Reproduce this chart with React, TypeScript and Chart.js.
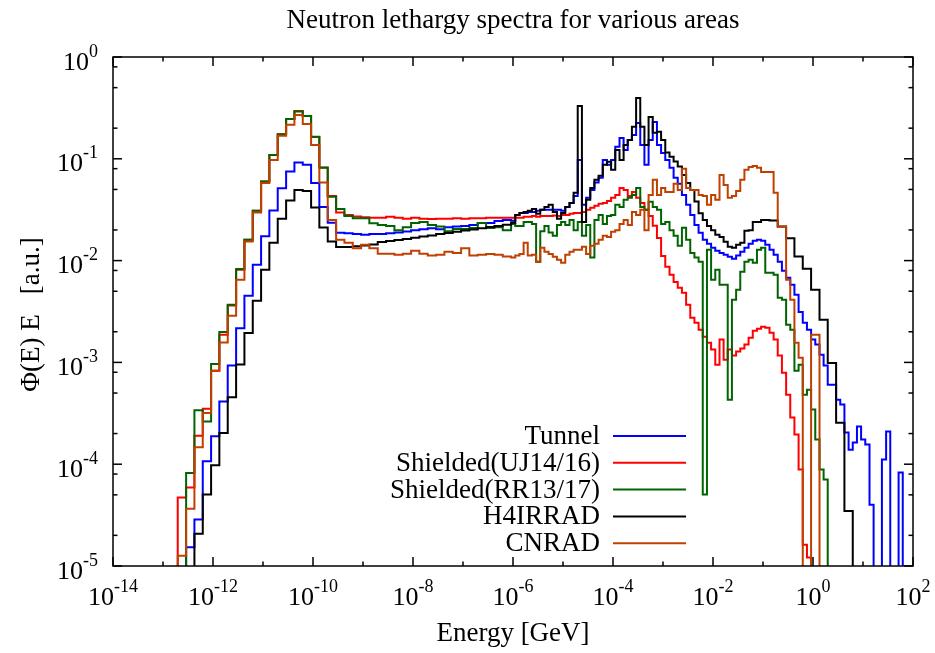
import React, { useEffect, useRef } from "react";
import { Chart, registerables } from "chart.js";

Chart.register(...registerables);

const FONT_FAMILY = '"Liberation Serif", "Times New Roman", serif';

const TITLE = "Neutron lethargy spectra for various areas";
const X_TITLE = "Energy [GeV]";
const Y_TITLE = "Φ(E) E   [a.u.]";

const X_MIN = 1e-14;
const X_MAX = 1e2;
const Y_MIN = 1e-5;
const Y_MAX = 1;

const X_TICK_EXPONENTS = [-14, -12, -10, -8, -6, -4, -2, 0, 2];
const X_MINOR_TICK_EXPONENTS = [-13, -11, -9, -7, -5, -3, -1, 1];
const Y_TICK_EXPONENTS = [0, -1, -2, -3, -4, -5];
const Y_MINOR_MULTIPLIERS = [2, 5, 8];

const SERIES_NAMES = ["Tunnel", "Shielded(UJ14/16)", "Shielded(RR13/17)", "H4IRRAD", "CNRAD"];
const SERIES_COLORS = ["#0000ff", "#ff0000", "#006400", "#000000", "#c04000"];

// Bin left edges (GeV); last entry is the upper edge of the last bin
const ENERGY = [
  1.34e-13, 1.97e-13, 2.9e-13, 4.25e-13, 6.24e-13, 9.16e-13, 1.34e-12,
  1.97e-12, 2.9e-12, 4.25e-12, 6.24e-12, 9.16e-12, 1.34e-11,
  1.97e-11, 2.9e-11, 4.25e-11, 6.24e-11, 9.16e-11, 1.34e-10,
  1.97e-10, 2.9e-10, 4.25e-10, 6.24e-10, 9.16e-10, 1.34e-9,
  1.97e-9, 2.9e-9, 4.25e-9, 6.24e-9, 9.16e-9, 1.34e-8,
  1.97e-8, 2.9e-8, 4.25e-8, 6.24e-8, 9.16e-8, 1.34e-7,
  1.97e-7, 2.9e-7, 4.25e-7, 6.24e-7,
  9.16e-7, 1.11e-6, 1.35e-6, 1.63e-6, 1.97e-6, 2.39e-6, 2.9e-6, 3.51e-6, 4.25e-6, 5.15e-6, 6.24e-6, 7.57e-6,
  9.16e-6, 1.11e-5, 1.35e-5, 1.63e-5, 1.97e-5, 2.39e-5, 2.9e-5, 3.51e-5, 4.25e-5, 5.15e-5, 6.24e-5, 7.57e-5,
  9.16e-5, 1.11e-4, 1.35e-4, 1.63e-4, 1.97e-4, 2.39e-4, 2.9e-4, 3.51e-4, 4.25e-4, 5.15e-4, 6.24e-4, 7.57e-4,
  9.16e-4, 1.11e-3, 1.35e-3, 1.63e-3, 1.97e-3, 2.39e-3, 2.9e-3, 3.51e-3, 4.25e-3, 5.15e-3, 6.24e-3, 7.57e-3,
  9.16e-3, 1.11e-2, 1.35e-2, 1.63e-2, 1.97e-2, 2.39e-2, 2.9e-2, 3.51e-2, 4.25e-2, 5.15e-2, 6.24e-2, 7.57e-2,
  9.16e-2, 0.111, 0.135, 0.163, 0.197, 0.239, 0.29, 0.351, 0.425, 0.515, 0.624, 0.757,
  0.916, 1.11, 1.35, 1.63, 1.97, 2.39, 2.9, 3.51, 4.25, 5.15, 6.24, 7.57,
  9.16, 11.1, 13.5, 16.3, 19.7, 23.9, 29.0, 35.1, 42.5, 51.5, 62.4, 75.7,
  100,
];

// 1e-7 marks bins below the plotted range
const TUNNEL = [
  1e-7, 1e-7, 1.53e-5, 2.86e-5, 1.07e-4, 1.88e-4, 4.14e-4,
  9.3e-4, 2.17e-3, 4.51e-3, 9.09e-3, 1.73e-2, 3.1e-2,
  5.15e-2, 7.49e-2, 9.21e-2, 8.72e-2, 5.77e-2, 3.37e-2,
  2.35e-2, 1.88e-2, 1.86e-2, 1.82e-2, 1.79e-2, 1.82e-2,
  1.83e-2, 1.86e-2, 1.89e-2, 1.93e-2, 1.99e-2, 2.03e-2,
  2.08e-2, 2.03e-2, 2.13e-2, 2.16e-2, 2.19e-2, 2.24e-2,
  2.34e-2, 2.34e-2, 2.45e-2, 2.5e-2,
  2.46e-2, 2.81e-2, 2.94e-2, 2.94e-2, 3.01e-2, 3.01e-2, 3.08e-2, 3.15e-2, 3.15e-2, 3.15e-2, 3.15e-2, 3.15e-2,
  3.08e-2, 3.37e-2, 3.69e-2, 4.32e-2, 9.74e-2, 3.53e-2, 4.14e-2, 4.95e-2, 5.85e-2, 6.5e-2, 9.74e-2, 8.72e-2,
  9.74e-2, 0.131, 0.16, 0.122, 0.153, 0.171, 0.225, 0.137, 8.72e-2, 0.153, 0.23, 0.137,
  0.114, 9.74e-2, 8.15e-2, 6.5e-2, 5.68e-2, 4.42e-2, 3.53e-2, 2.81e-2, 2.24e-2, 1.88e-2, 1.6e-2, 1.46e-2,
  1.34e-2, 1.25e-2, 1.19e-2, 1.14e-2, 1.09e-2, 1.04e-2, 1.12e-2, 1.22e-2, 1.34e-2, 1.46e-2, 1.57e-2, 1.6e-2,
  1.57e-2, 1.43e-2, 1.28e-2, 1.14e-2, 9.75e-3, 7.95e-3, 6.79e-3, 5.78e-3, 4.61e-3, 3.13e-3, 2.45e-3, 2.09e-3,
  1.68e-3, 1.5e-3, 1.19e-3, 9.3e-4, 6.04e-4, 6.04e-4, 4.3e-4, 3.85e-4, 2.05e-4, 1.39e-4, 1.63e-4, 2.34e-4,
  1.75e-4, 1.56e-4, 4.0e-5, 1e-7, 1e-7, 1.11e-4, 2.1e-4, 1e-7, 1e-7, 8.27e-5, 1e-7, 1e-7,
  1e-7,
];

const SHIELDED_UJ = [
  1e-7, 4.7e-5, 5.9e-5, 1.9e-4, 3.5e-4, 8.3e-4, 1.87e-3,
  3.62e-3, 8.13e-3, 1.6e-2, 3.08e-2, 5.97e-2, 0.109,
  0.174, 0.246, 0.295, 0.264, 0.164, 8.15e-2,
  4.32e-2, 2.96e-2, 2.81e-2, 2.71e-2, 2.67e-2, 2.63e-2,
  2.63e-2, 2.69e-2, 2.63e-2, 2.57e-2, 2.63e-2, 2.57e-2,
  2.56e-2, 2.57e-2, 2.57e-2, 2.6e-2, 2.57e-2, 2.6e-2,
  2.61e-2, 2.63e-2, 2.63e-2, 2.63e-2,
  2.63e-2, 2.63e-2, 2.63e-2, 2.69e-2, 2.69e-2, 2.75e-2, 2.69e-2, 2.75e-2, 2.75e-2, 2.75e-2, 2.78e-2, 2.75e-2,
  2.81e-2, 2.81e-2, 2.88e-2, 2.94e-2, 2.94e-2, 3.01e-2, 3.15e-2, 3.3e-2, 3.45e-2, 3.61e-2, 3.69e-2, 3.86e-2,
  4.14e-2, 4.42e-2, 5.18e-2, 4.95e-2, 4.32e-2, 4.73e-2, 4.14e-2, 3.69e-2, 3.15e-2, 2.75e-2, 2.2e-2, 1.67e-2,
  1.11e-2, 8.7e-3, 7.26e-3, 6.17e-3, 5.41e-3, 4.82e-3, 3.68e-3, 2.75e-3, 2.45e-3, 2.09e-3, 1.79e-3, 1.56e-3,
  1.34e-3, 9.5e-4, 1.68e-3, 1.06e-3, 1.34e-3, 1.17e-3, 1.28e-3, 1.37e-3, 1.5e-3, 1.75e-3, 2.05e-3, 2.14e-3,
  2.24e-3, 2.19e-3, 1.96e-3, 1.68e-3, 1.17e-3, 7.92e-4, 4.82e-4, 2.87e-4, 1.96e-4, 8.86e-5, 1.62e-5, 1.21e-5,
  1e-7, 1e-7, 1e-7, 1e-7, 1e-7, 1e-7, 1e-7, 1e-7, 1e-7, 1e-7, 1e-7, 1e-7,
  1e-7, 1e-7, 1e-7, 1e-7, 1e-7, 1e-7, 1e-7, 1e-7, 1e-7, 1e-7, 1e-7, 1e-7,
  1e-7,
];

const SHIELDED_RR = [
  1e-7, 1e-7, 8.2e-5, 3.39e-4, 2.62e-4, 9.67e-4, 1.99e-3,
  3.68e-3, 8.26e-3, 1.6e-2, 3.08e-2, 5.97e-2, 0.109,
  0.174, 0.246, 0.291, 0.264, 0.165, 8.2e-2,
  4.23e-2, 3.22e-2, 2.75e-2, 2.61e-2, 2.61e-2, 2.33e-2,
  2.24e-2, 2.19e-2, 1.99e-2, 2.13e-2, 2.34e-2, 2.39e-2,
  2.24e-2, 2.16e-2, 1.94e-2, 2.04e-2, 2.04e-2, 2.09e-2,
  2.34e-2, 2.09e-2, 2.13e-2, 1.99e-2,
  2.29e-2, 2.19e-2, 2.19e-2, 2.4e-2, 2.4e-2, 2.29e-2, 9.75e-3, 1.94e-2, 2.19e-2, 1.89e-2, 1.75e-2, 2.24e-2,
  2.4e-2, 2.24e-2, 2.51e-2, 1.99e-2, 2.4e-2, 1.75e-2, 2.24e-2, 1.07e-2, 2.51e-2, 2.81e-2, 2.29e-2, 2.75e-2,
  2.81e-2, 3.53e-2, 3.37e-2, 3.95e-2, 4.14e-2, 4.42e-2, 5.18e-2, 3.37e-2, 3.15e-2, 3.78e-2, 3.37e-2, 3.15e-2,
  2.29e-2, 2.4e-2, 1.99e-2, 1.75e-2, 1.4e-2, 2.1e-2, 1.6e-2, 1.19e-2, 1.07e-2, 9.75e-3, 5.03e-5, 1.28e-2,
  6.48e-3, 8.13e-3, 5.78e-3, 5.78e-3, 4.3e-4, 4.12e-3, 5.16e-3, 7.77e-3, 9.75e-3, 1.02e-2, 9.52e-3, 1.28e-2,
  1.34e-2, 7.6e-3, 7.6e-3, 7.26e-3, 4.31e-3, 4.12e-3, 2.35e-3, 2.09e-3, 8.29e-4, 9.5e-4, 4.82e-4, 5.4e-4,
  3.44e-4, 1.75e-4, 8.86e-5, 7.06e-5, 1e-7, 1e-7, 1e-7, 1e-7, 1e-7, 1e-7, 1e-7, 1e-7,
  1e-7, 1e-7, 1e-7, 1e-7, 1e-7, 1e-7, 1e-7, 1e-7, 1e-7, 1e-7, 1e-7, 1e-7,
  1e-7,
];

const H4IRRAD = [
  1e-7, 1e-7, 1e-7, 2.07e-5, 5.03e-5, 9.78e-5, 2.03e-4,
  4.54e-4, 9.51e-4, 1.94e-3, 4.03e-3, 8.13e-3, 1.5e-2,
  2.57e-2, 3.89e-2, 4.95e-2, 4.84e-2, 3.32e-2, 2.11e-2,
  1.54e-2, 1.36e-2, 1.36e-2, 1.38e-2, 1.41e-2, 1.44e-2,
  1.52e-2, 1.56e-2, 1.59e-2, 1.63e-2, 1.68e-2, 1.72e-2,
  1.76e-2, 1.82e-2, 1.87e-2, 1.92e-2, 1.97e-2, 2.02e-2,
  2.08e-2, 2.14e-2, 2.19e-2, 2.25e-2,
  2.35e-2, 2.81e-2, 2.94e-2, 3.01e-2, 3.08e-2, 3.22e-2, 2.88e-2, 3.15e-2, 3.37e-2, 3.53e-2, 3.01e-2, 2.57e-2,
  2.94e-2, 3.37e-2, 3.69e-2, 4.63e-2, 0.33, 2.4e-2, 3.95e-2, 5.18e-2, 6.21e-2, 6.8e-2, 8.72e-2, 9.33e-2,
  7.79e-2, 0.122, 9.74e-2, 0.137, 0.153, 0.206, 0.396, 0.206, 0.137, 0.258, 0.18, 0.184,
  0.153, 0.115, 0.105, 9.4e-2, 8.38e-2, 6.94e-2, 5.77e-2, 4.95e-2, 3.8e-2, 2.92e-2, 2.51e-2, 2.19e-2,
  1.99e-2, 1.79e-2, 1.71e-2, 1.53e-2, 1.37e-2, 1.34e-2, 1.43e-2, 1.5e-2, 1.96e-2, 1.99e-2, 2.4e-2, 2.4e-2,
  2.51e-2, 2.51e-2, 2.48e-2, 2.48e-2, 2.16e-2, 2.16e-2, 1.66e-2, 1.66e-2, 1.1e-2, 1.1e-2, 8.3e-3, 8.3e-3,
  5.16e-3, 5.16e-3, 2.63e-3, 2.63e-3, 9.89e-4, 9.89e-4, 2.55e-4, 2.55e-4, 3.46e-5, 3.46e-5, 1e-7, 1e-7,
  1e-7, 1e-7, 1e-7, 1e-7, 1e-7, 1e-7, 1e-7, 1e-7, 1e-7, 1e-7, 1e-7, 1e-7,
  1e-7,
];

const CNRAD = [
  1e-7, 1.26e-5, 3.65e-5, 1.47e-4, 3.19e-4, 8.29e-4, 1.57e-3,
  2.87e-3, 6.48e-3, 1.54e-2, 2.97e-2, 5.77e-2, 9.74e-2,
  0.168, 0.216, 0.27, 0.22, 0.137, 5.85e-2,
  2.51e-2, 1.6e-2, 1.5e-2, 1.32e-2, 1.43e-2, 1.32e-2,
  1.17e-2, 1.17e-2, 1.14e-2, 1.17e-2, 1.25e-2, 1.17e-2,
  1.12e-2, 1.14e-2, 1.22e-2, 1.19e-2, 1.32e-2, 1.12e-2,
  1.14e-2, 1.16e-2, 1.14e-2, 1.1e-2,
  1.07e-2, 1.12e-2, 1.16e-2, 1.5e-2, 1.12e-2, 1.14e-2, 9.75e-3, 1.34e-2, 1.22e-2, 1.16e-2, 1.09e-2, 1.02e-2,
  9.52e-3, 1.14e-2, 1.22e-2, 1.28e-2, 1.28e-2, 1.37e-2, 1.16e-2, 1.4e-2, 1.46e-2, 1.6e-2, 1.75e-2, 1.71e-2,
  1.92e-2, 1.99e-2, 2.29e-2, 2.51e-2, 2.24e-2, 3.01e-2, 2.81e-2, 3.15e-2, 1.99e-2, 4.42e-2, 6.21e-2, 4.42e-2,
  5.18e-2, 4.73e-2, 4.73e-2, 5.68e-2, 4.95e-2, 7.97e-2, 5.18e-2, 4.95e-2, 4.95e-2, 4.42e-2, 4.32e-2, 3.53e-2,
  4.42e-2, 3.95e-2, 6.94e-2, 5.54e-2, 4.14e-2, 4.32e-2, 4.84e-2, 6.21e-2, 7.79e-2, 8.33e-2, 8.52e-2, 8.15e-2,
  7.43e-2, 7.43e-2, 7.43e-2, 4.63e-2, 2.15e-2, 2.15e-2, 6.48e-3, 4.12e-3, 1.56e-3, 1.11e-3, 1e-7, 1e-7,
  1.87e-3, 1.87e-3, 1e-7, 1e-7, 1e-7, 1e-7, 1e-7, 1e-7, 1e-7, 1e-7, 1e-7, 1e-7,
  1e-7, 1e-7, 1e-7, 1e-7, 1e-7, 1e-7, 1e-7, 1e-7, 1e-7, 1e-7, 1e-7, 1e-7,
  1e-7,
];

const SERIES_VALUES = [TUNNEL, SHIELDED_UJ, SHIELDED_RR, H4IRRAD, CNRAD];

const TEXT_FONT = `27px ${FONT_FAMILY}`;
const TICK_FONT = `26px ${FONT_FAMILY}`;
const SUP_FONT = `18px ${FONT_FAMILY}`;

function drawPower(ctx: any, exp: number, x: number, y: number, align: string) {
  const base = "10";
  const sup = String(exp);
  ctx.font = TICK_FONT;
  const wb = ctx.measureText(base).width;
  ctx.font = SUP_FONT;
  const ws = ctx.measureText(sup).width;
  const total = wb + ws;
  const left = align === "center" ? x - total / 2 : x - total;
  ctx.textAlign = "left";
  ctx.textBaseline = "alphabetic";
  ctx.font = TICK_FONT;
  ctx.fillText(base, left, y);
  ctx.font = SUP_FONT;
  ctx.fillText(sup, left + wb, y - 13);
}

const overlayPlugin = {
  id: "gnuplotOverlay",
  afterDraw(chart: any) {
    const { ctx, chartArea: a, scales } = chart;
    const xs = scales.x;
    const ys = scales.y;
    ctx.save();
    ctx.strokeStyle = "#000";
    ctx.fillStyle = "#000";
    ctx.lineWidth = 1.5;
    ctx.strokeRect(a.left, a.top, a.right - a.left, a.bottom - a.top);

    const seg = (x1: number, y1: number, x2: number, y2: number) => {
      ctx.beginPath();
      ctx.moveTo(x1, y1);
      ctx.lineTo(x2, y2);
      ctx.stroke();
    };

    X_TICK_EXPONENTS.forEach((e) => {
      const px = xs.getPixelForValue(Math.pow(10, e));
      seg(px, a.bottom, px, a.bottom - 9);
      seg(px, a.top, px, a.top + 9);
    });
    X_MINOR_TICK_EXPONENTS.forEach((e) => {
      const px = xs.getPixelForValue(Math.pow(10, e));
      seg(px, a.bottom, px, a.bottom - 4.5);
      seg(px, a.top, px, a.top + 4.5);
    });
    Y_TICK_EXPONENTS.forEach((e) => {
      const py = ys.getPixelForValue(Math.pow(10, e));
      seg(a.left, py, a.left + 9, py);
      seg(a.right, py, a.right - 9, py);
      if (e > Y_TICK_EXPONENTS[Y_TICK_EXPONENTS.length - 1]) {
        Y_MINOR_MULTIPLIERS.forEach((m) => {
          const pm = ys.getPixelForValue(m * Math.pow(10, e - 1));
          seg(a.left, pm, a.left + 4.5, pm);
          seg(a.right, pm, a.right - 4.5, pm);
        });
      }
    });

    X_TICK_EXPONENTS.forEach((e) => {
      const px = xs.getPixelForValue(Math.pow(10, e));
      drawPower(ctx, e, px, a.bottom + 39, "center");
    });
    Y_TICK_EXPONENTS.forEach((e) => {
      const py = ys.getPixelForValue(Math.pow(10, e));
      drawPower(ctx, e, a.left - 15, py + 12.5, "right");
    });

    ctx.font = TEXT_FONT;
    ctx.textAlign = "center";
    ctx.textBaseline = "alphabetic";
    ctx.fillText(TITLE, (a.left + a.right) / 2, a.top - 29);
    ctx.fillText(X_TITLE, (a.left + a.right) / 2, a.bottom + 75);
    ctx.save();
    ctx.translate(32, (a.top + a.bottom) / 2 + 3);
    ctx.rotate(-Math.PI / 2);
    ctx.textBaseline = "middle";
    ctx.fillText(Y_TITLE, 0, 0);
    ctx.restore();

    const textRight = a.left + 487;
    const lineStart = a.left + 500;
    const lineEnd = a.left + 573;
    const rowTop = a.top + 379;
    const rowStep = 26.8;
    SERIES_NAMES.forEach((name, i) => {
      const y = rowTop + i * rowStep;
      ctx.font = TEXT_FONT;
      ctx.textAlign = "right";
      ctx.textBaseline = "middle";
      ctx.fillStyle = "#000";
      ctx.fillText(name, textRight, y + 1);
      ctx.strokeStyle = SERIES_COLORS[i];
      ctx.lineWidth = 2;
      seg(lineStart, y, lineEnd, y);
    });
    ctx.restore();
  },
};

export default function App() {
  const canvasRef = useRef<HTMLCanvasElement | null>(null);

  useEffect(() => {
    const canvas = canvasRef.current;
    if (!canvas) return;
    const datasets = SERIES_NAMES.map((name, i) => ({
      label: name,
      data: ENERGY.map((e, k) => ({ x: e, y: SERIES_VALUES[i][k] })),
      borderColor: SERIES_COLORS[i],
      backgroundColor: SERIES_COLORS[i],
      borderWidth: 2,
      pointRadius: 0,
      stepped: true,
      fill: false,
      order: SERIES_NAMES.length - 1 - i,
    }));
    const chart = new Chart(canvas, {
      type: "line",
      data: { datasets },
      options: {
        animation: false,
        responsive: false,
        devicePixelRatio: 1,
        layout: { padding: { left: 113, top: 57, right: 22, bottom: 87 } },
        plugins: {
          legend: { display: false },
          tooltip: { enabled: false },
          title: { display: false },
        },
        scales: {
          x: { type: "logarithmic", min: X_MIN, max: X_MAX, display: false },
          y: { type: "logarithmic", min: Y_MIN, max: Y_MAX, display: false },
        },
      },
      plugins: [overlayPlugin],
    } as any);
    return () => chart.destroy();
  }, []);

  return (
    <div style={{ position: "fixed", left: 0, top: 0, width: 935, height: 653, background: "#fff" }}>
      <canvas ref={canvasRef} width={935} height={653} style={{ display: "block", width: 935, height: 653 }} />
    </div>
  );
}
